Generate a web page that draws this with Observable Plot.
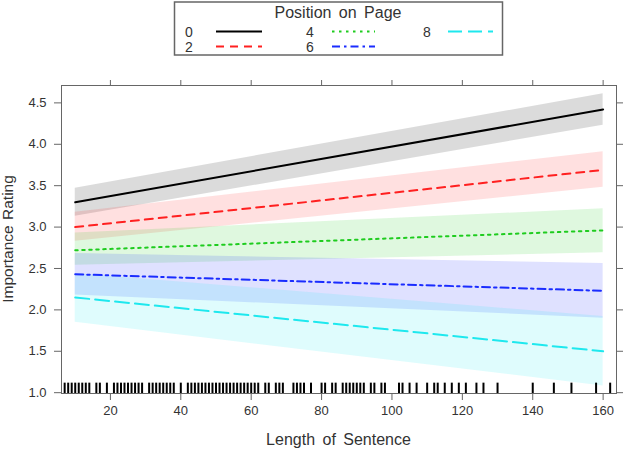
<!DOCTYPE html>
<html><head><meta charset="utf-8">
<script src="https://cdn.jsdelivr.net/npm/d3@7"></script>
<script src="https://cdn.jsdelivr.net/npm/@observablehq/plot@0.6"></script>
<style>
body{margin:0;background:#fff;font-family:"Liberation Sans",Arial,sans-serif;}
#wrap{position:relative;width:626px;height:450px;}
#legend{position:absolute;left:0;top:0;}
</style></head><body><div id="wrap"></div>
<script>
// ---- data ----
const positions = ["0", "2", "4", "6", "8"];
const lengthRange = [10, 160];
const fitAtStart = [3.30, 3.00, 2.72, 2.43, 2.15];
const fitAtEnd = [4.42, 3.69, 2.96, 2.23, 1.50];
const lowerAtStart = [3.13, 2.83, 2.54, 2.18, 1.85];
const upperAtStart = [3.47, 3.18, 2.93, 2.68, 2.44];
const lowerAtEnd = [4.23, 3.48, 2.69, 1.90, 1.08];
const upperAtEnd = [4.61, 3.91, 3.22, 2.56, 1.92];
const rugLengths = [7,8,9,10,11,12,13,14,16,17,19,21,22,23,24,25,26,27,28,29,31,32,33,34,35,36,37,38,40,
  42,43,44,45,46,47,48,49,50,51,52,53,54,55,56,57,58,59,60,61,62,64,65,67,68,69,72,73,74,75,77,
  80,81,83,84,86,87,88,89,90,91,92,94,95,97,98,102,103,105,107,110,112,113,115,117,119,
  121,124,126,130,140,146,151,158,162];
const xTicks = [20, 40, 60, 80, 100, 120, 140, 160];
const yTicks = [1.0, 1.5, 2.0, 2.5, 3.0, 3.5, 4.0, 4.5];

// ---- styles ----
const lineColors = ["#000000", "#ff2020", "#1fcc1f", "#1a2cff", "#1ee8ee"];
const dashes = [null, "8,6", "2.5,4.5", "8,4,2.5,4", "14,6"];

const bandRows = positions.flatMap((p, i) => [
  {pos: p, x: lengthRange[0], lo: lowerAtStart[i], hi: upperAtStart[i]},
  {pos: p, x: lengthRange[1], lo: lowerAtEnd[i], hi: upperAtEnd[i]}
]);
const fitRows = positions.flatMap((p, i) => [
  {pos: p, x: lengthRange[0], y: fitAtStart[i]},
  {pos: p, x: lengthRange[1], y: fitAtEnd[i]}
]);

const W = 626, H = 450, mL = 61, mR = 10, mT = 85, mB = 57;
const plot = Plot.plot({
  width: W, height: H,
  marginLeft: mL, marginRight: mR, marginTop: mT, marginBottom: mB,
  x: {domain: [6.1, 163.8]},
  y: {domain: [0.99, 4.71]},
  color: {domain: positions, range: lineColors},
  style: {fontFamily: '"Liberation Sans", Arial, sans-serif', fontSize: "12.5px", color: "#444", background: "white"},
  marks: [
    Plot.areaY(bandRows, {x: "x", y1: "lo", y2: "hi", z: "pos", fill: "pos", fillOpacity: 0.14}),
    ...positions.map((p, i) => Plot.line(fitRows.filter(d => d.pos === p), {
      x: "x", y: "y", stroke: lineColors[i], strokeWidth: 2, strokeDasharray: dashes[i]
    })),
    Plot.ruleX(rugLengths, {x: d => d, y1: 0.99, y2: 1.115, stroke: "#000", strokeWidth: 2}),
    Plot.frame({stroke: "#666"}),
    Plot.axisX({ticks: xTicks, tickSize: 7, tickPadding: 5, label: null, stroke: "#666", fill: "#333", fontSize: 13}),
    Plot.axisX({anchor: "top", ticks: xTicks, tickSize: 6, tickFormat: () => "", label: null, stroke: "#666"}),
    Plot.axisY({ticks: yTicks, tickSize: 7, tickPadding: 8, tickFormat: d3.format(".1f"), label: null, stroke: "#666", fill: "#333", fontSize: 13}),
    Plot.axisY({anchor: "right", ticks: yTicks, tickSize: 6, tickFormat: () => "", label: null, stroke: "#666"})
  ]
});
document.getElementById("wrap").appendChild(plot);

const svg = d3.select(plot);
svg.selectAll("g[aria-label$='tick label']").attr("font-size", 13).style("font-size", "13px");
svg.append("text")
  .attr("x", (mL + W - mR) / 2).attr("y", 445)
  .attr("text-anchor", "middle").attr("fill", "#333")
  .style("font-size", "16px").style("word-spacing", "3px")
  .text("Length of Sentence");
svg.append("text")
  .attr("transform", `translate(13,${(mT + H - mB) / 2}) rotate(-90)`)
  .attr("text-anchor", "middle").attr("fill", "#333")
  .style("font-size", "15.5px").style("word-spacing", "1px")
  .text("Importance Rating");

// ---- legend ----
const lg = d3.select("#wrap").append("svg").attr("id", "legend")
  .attr("width", W).attr("height", 60)
  .style("font-family", '"Liberation Sans", Arial, sans-serif');
lg.append("rect").attr("x", 174.5).attr("y", 2).attr("width", 328).attr("height", 53)
  .attr("fill", "white").attr("stroke", "#666").attr("stroke-width", 1.5);
lg.append("text").attr("x", 338).attr("y", 18).attr("text-anchor", "middle")
  .attr("fill", "#333").style("font-size", "16px").style("word-spacing", "3px")
  .text("Position on Page");
const colX = [185, 306, 423];
const lineX = [[216, 262], [332, 375], [448, 493]];
const rowY = [31.5, 46.5];
positions.forEach((p, i) => {
  const c = Math.floor(i / 2), r = i % 2;
  lg.append("text").attr("x", colX[c]).attr("y", rowY[r] + 5)
    .attr("fill", "#333").style("font-size", "14px").text(p);
  lg.append("line").attr("x1", lineX[c][0]).attr("x2", lineX[c][1])
    .attr("y1", rowY[r]).attr("y2", rowY[r])
    .attr("stroke", lineColors[i]).attr("stroke-width", 2)
    .attr("stroke-dasharray", dashes[i]);
});
</script></body></html>
